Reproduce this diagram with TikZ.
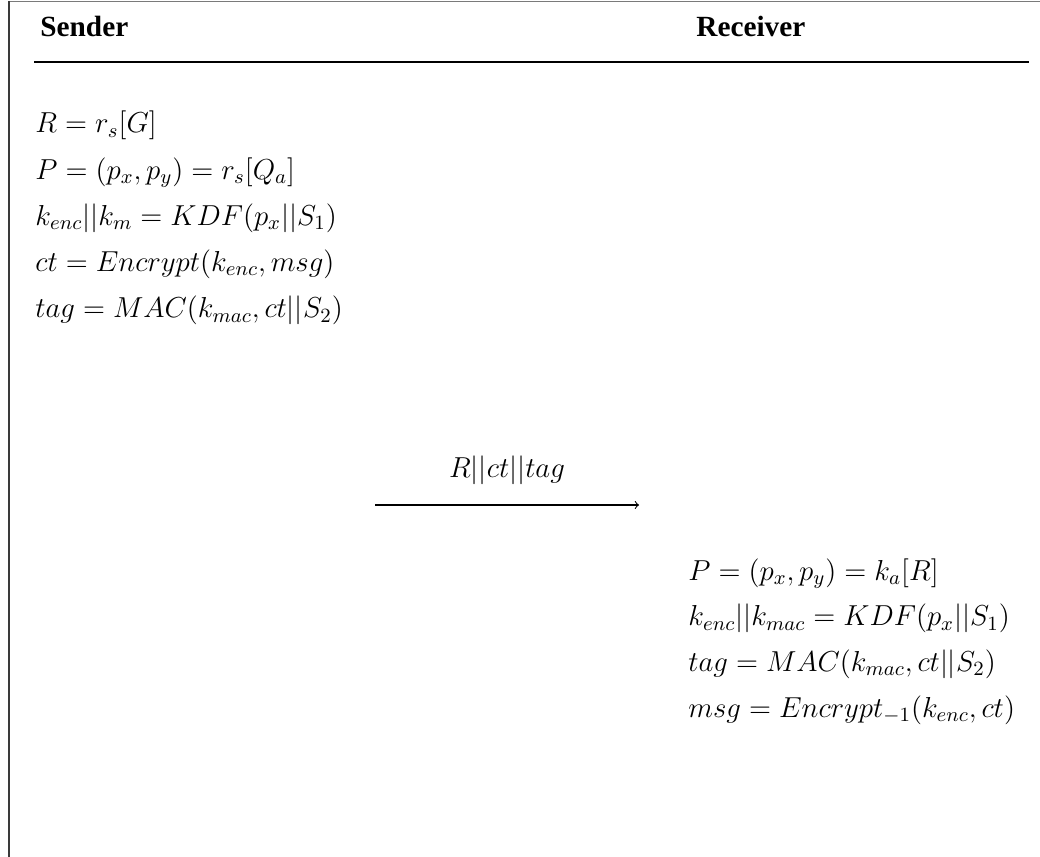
\RequirePackage{fix-cm}
\documentclass[tikz,border=0pt]{standalone}
\usepackage{fontspec}
\setmainfont{Liberation Serif}
\usepackage{xcolor}
\definecolor{framegray}{HTML}{7A7A7A}
\definecolor{framedark}{HTML}{3A3A3A}

\tikzset{
  party/.style={font=\fontsize{14}{16}\selectfont\bfseries, anchor=base west, inner sep=0pt},
  calc/.style={font=\fontsize{13.8}{16}\selectfont, anchor=base west, inner sep=0pt}
}

\begin{document}
\begin{tikzpicture}[x=0.478pt, y=-0.478pt]
\useasboundingbox (0,0) rectangle (1040,857);
% outer frame
\draw[framegray, line width=0.6pt] (1040,1.5) -- (9,1.5);
\draw[framedark, line width=0.7pt] (9,1.5) -- (9,857);

% headers
\node[party] (sender) at (40,37) {Sender};
\node[party] (receiver) at (696,37) {Receiver};
\draw[line width=0.5pt] (34,62) -- (1029,62);

% Sender side
\node[calc] (s1) at (35,133) {$R = r_s[G]$};
\node[calc] (s2) at (35,179.2) {$P = (p_x, p_y) = r_s[Q_a]$};
\node[calc] (s3) at (35,225.4) {$k_{enc}||k_m = KDF(p_x||S_1)$};
\node[calc] (s4) at (35,271.6) {$ct = Encrypt(k_{enc}, msg)$};
\node[calc] (s5) at (35,317.8) {$tag = MAC(k_{mac}, ct||S_2)$};

% message
\coordinate (msgstart) at (375,505);
\coordinate (msgend) at (639,505);
\draw[->, line width=0.5pt] (msgstart) -- (msgend);
\node[calc, anchor=base] (msg) at (507,478) {$R||ct||tag$};

% Receiver side
\node[calc] (r1) at (688,580) {$P = (p_x, p_y) = k_a[R]$};
\node[calc] (r2) at (688,625.7) {$k_{enc}||k_{mac} = KDF(p_x||S_1)$};
\node[calc] (r3) at (688,671.4) {$tag = MAC(k_{mac}, ct||S_2)$};
\node[calc] (r4) at (688,717.1) {$msg = Encrypt_{-1}(k_{enc}, ct)$};
\end{tikzpicture}
\end{document}
